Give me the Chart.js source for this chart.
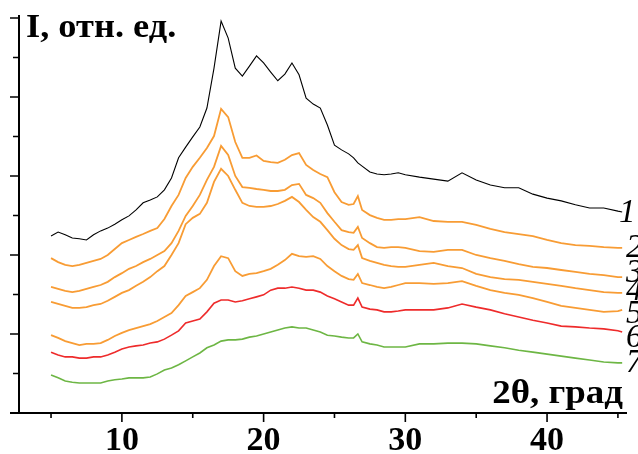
<!DOCTYPE html>
<html>
<head>
<meta charset="utf-8">
<script src="https://cdn.jsdelivr.net/npm/chart.js@4.4.1/dist/chart.umd.min.js"></script>
<style>
html,body{margin:0;padding:0;background:#fff;}
#wrap{width:638px;height:454px;position:relative;}
</style>
</head>
<body>
<div id="wrap"><canvas id="c"></canvas></div>
<script>
// 2θ, degrees
const xs = [5,5.5,6,6.5,7,7.5,8,8.5,9,9.5,10,10.5,11,11.5,12,12.5,13,13.5,14,14.5,15,15.5,16,16.5,17,17.5,18,18.5,19,19.5,20,20.5,21,21.5,22,22.5,23,23.5,24,24.5,25,25.5,26,26.35,26.65,26.95,27.5,28,28.5,29,29.5,30,31,32,33,34,35,36,37,38,39,40,41,42,43,44,45,45.3];
const s1 = [4.48,4.58,4.51,4.43,4.41,4.38,4.51,4.61,4.68,4.78,4.89,4.99,5.14,5.32,5.39,5.47,5.65,5.95,6.46,6.73,6.99,7.24,7.72,8.73,9.92,9.49,8.73,8.53,8.78,9.04,8.86,8.63,8.41,8.58,8.86,8.56,7.97,7.82,7.72,7.29,6.78,6.66,6.56,6.46,6.33,6.25,6.10,6.05,6.03,6.05,6.08,6.03,5.97,5.92,5.87,6.08,5.90,5.77,5.70,5.70,5.54,5.44,5.37,5.27,5.19,5.19,5.11,5.09];
const s2 = [3.92,3.82,3.75,3.72,3.75,3.80,3.85,3.90,4.00,4.15,4.30,4.38,4.46,4.53,4.61,4.68,4.91,5.24,5.52,5.95,6.23,6.46,6.71,7.01,7.70,7.49,6.86,6.46,6.46,6.52,6.38,6.35,6.33,6.41,6.53,6.58,6.28,6.15,6.05,5.97,5.59,5.34,5.27,5.29,5.49,5.14,5.01,4.94,4.89,4.89,4.91,4.91,4.96,4.86,4.84,4.84,4.76,4.66,4.58,4.53,4.48,4.38,4.30,4.25,4.23,4.20,4.18,4.18];
const s3 = [3.19,3.14,3.09,3.06,3.09,3.14,3.19,3.24,3.32,3.44,3.54,3.65,3.72,3.82,3.90,4.00,4.10,4.30,4.61,4.99,5.24,5.52,5.90,6.23,6.76,6.53,6.00,5.72,5.70,5.67,5.65,5.62,5.62,5.65,5.77,5.80,5.52,5.44,5.32,5.06,4.84,4.63,4.58,4.56,4.71,4.43,4.30,4.20,4.18,4.20,4.20,4.18,4.10,4.08,4.13,4.13,4.00,3.92,3.85,3.77,3.70,3.67,3.62,3.57,3.52,3.49,3.44,3.44];
const s4 = [2.81,2.76,2.71,2.66,2.66,2.68,2.73,2.76,2.84,2.94,3.04,3.11,3.22,3.32,3.44,3.59,3.72,4.00,4.30,4.78,4.94,5.04,5.32,5.85,6.18,6.00,5.65,5.32,5.24,5.22,5.22,5.24,5.29,5.37,5.47,5.34,5.14,4.96,4.84,4.63,4.41,4.25,4.15,4.13,4.25,3.92,3.85,3.80,3.75,3.72,3.70,3.70,3.75,3.80,3.72,3.67,3.52,3.44,3.39,3.37,3.32,3.27,3.22,3.16,3.11,3.06,3.04,3.04];
const s5 = [1.97,1.90,1.82,1.77,1.72,1.75,1.75,1.77,1.85,1.95,2.03,2.10,2.15,2.20,2.25,2.33,2.43,2.53,2.73,2.96,3.06,3.16,3.37,3.72,3.97,3.92,3.59,3.47,3.52,3.54,3.59,3.65,3.75,3.87,4.03,3.97,3.95,3.97,3.90,3.72,3.59,3.47,3.39,3.37,3.52,3.29,3.24,3.19,3.16,3.19,3.24,3.29,3.29,3.27,3.29,3.34,3.22,3.11,3.04,2.99,2.91,2.81,2.71,2.66,2.61,2.56,2.58,2.61];
const s6 = [1.54,1.47,1.42,1.42,1.39,1.39,1.42,1.42,1.47,1.54,1.62,1.67,1.70,1.72,1.77,1.80,1.87,1.97,2.08,2.28,2.33,2.38,2.56,2.78,2.86,2.86,2.81,2.84,2.89,2.94,2.99,3.11,3.16,3.16,3.19,3.16,3.11,3.11,3.06,2.96,2.89,2.81,2.73,2.73,2.91,2.68,2.63,2.61,2.56,2.56,2.58,2.61,2.61,2.61,2.66,2.76,2.68,2.61,2.51,2.43,2.35,2.28,2.20,2.18,2.15,2.13,2.08,2.05];
const s7 = [0.96,0.89,0.81,0.78,0.76,0.76,0.76,0.76,0.81,0.84,0.86,0.89,0.89,0.89,0.91,0.99,1.09,1.14,1.22,1.32,1.42,1.52,1.65,1.72,1.82,1.85,1.85,1.87,1.92,1.95,2.00,2.05,2.10,2.15,2.18,2.15,2.15,2.10,2.05,1.97,1.95,1.92,1.90,1.90,2.00,1.80,1.75,1.72,1.67,1.67,1.67,1.67,1.75,1.75,1.77,1.77,1.75,1.70,1.65,1.59,1.54,1.49,1.44,1.39,1.34,1.29,1.27,1.27];
const seriesNames = ['1','2','3','4','5','6','7'];
const xTickLabels = [10,20,30,40];
const yTitle = 'I, отн. ед.';
const xTitle = '2θ, град';

const allSeries = [s1,s2,s3,s4,s5,s6,s7];
const colors = ['#000000','#F89C34','#F89C34','#F89C34','#F89C34','#EE2B2B','#6DB644'];
const widths = [1.1,1.8,1.8,1.8,1.8,1.6,1.6];

const datasets = allSeries.map((s,k)=>({
  label: seriesNames[k],
  data: xs.map((x,i)=>({x:x,y:s[i]})),
  borderColor: colors[k],
  borderWidth: widths[k],
  pointRadius: 0,
  tension: 0,
  fill: false
}));

function stretchedText(ctx, text, x, y, sx, align){
  ctx.save();
  const w = ctx.measureText(text).width * sx;
  const left = align === 'right' ? x - w : x;
  ctx.translate(left, y);
  ctx.scale(sx, 1);
  ctx.textAlign = 'left';
  ctx.fillText(text, 0, 0);
  ctx.restore();
}

const decor = {
  id:'decor',
  afterDraw(chart){
    const ctx = chart.ctx;
    const xS = chart.scales.x, yS = chart.scales.y;
    const y0 = yS.getPixelForValue(0);
    const xLeft = xS.getPixelForValue(xS.min);
    ctx.save();
    ctx.strokeStyle = '#000';
    ctx.lineWidth = 2;
    ctx.beginPath();
    ctx.moveTo(xLeft, y0); ctx.lineTo(xLeft, chart.chartArea.top+1);
    ctx.moveTo(xLeft-9, y0); ctx.lineTo(chart.chartArea.right+2, y0);
    ctx.stroke();
    ctx.lineWidth = 1.6;
    ctx.beginPath();
    for (let v=1; v<=10; v++){
      const py = yS.getPixelForValue(v);
      const len = (v%2===0)?9:6;
      ctx.moveTo(xLeft-len, py); ctx.lineTo(xLeft, py);
    }
    for (let v=5; v<=45; v+=5){
      const px = xS.getPixelForValue(v);
      const len = (v%10===0)?9:5;
      ctx.moveTo(px, y0); ctx.lineTo(px, y0+len);
    }
    ctx.stroke();
    ctx.fillStyle = '#000';
    ctx.font = 'bold 34px "Liberation Serif", "Times New Roman", serif';
    ctx.textAlign = 'center';
    ctx.textBaseline = 'alphabetic';
    xTickLabels.forEach(v=>{
      ctx.fillText(String(v), xS.getPixelForValue(v), 450);
    });
    ctx.font = 'bold 34px "Liberation Serif", "Times New Roman", serif';
    stretchedText(ctx, yTitle, 26, 37, 1.07, 'left');
    ctx.font = 'bold 33px "Liberation Serif", "Times New Roman", serif';
    stretchedText(ctx, xTitle, 623, 403, 1.12, 'right');
    ctx.textAlign = 'left';
    ctx.font = 'italic 33px "Liberation Serif", "Times New Roman", serif';
    const lx = [619,626,626,626,626,626,626];
    const ly = [222,257,282,300,323,347,372];
    seriesNames.forEach((n,k)=>{
      ctx.fillText(n, lx[k], ly[k]);
    });
    ctx.restore();
  }
};

new Chart(document.getElementById('c'), {
  type:'line',
  data:{datasets},
  options:{
    responsive:true,
    maintainAspectRatio:false,
    animation:false,
    layout:{padding:{left:19,right:13,top:14,bottom:41}},
    plugins:{legend:{display:false},tooltip:{enabled:false}},
    scales:{
      x:{type:'linear',min:2.74,max:45.5,display:false},
      y:{type:'linear',min:0,max:10.1,display:false}
    }
  },
  plugins:[decor]
});
</script>
</body>
</html>
